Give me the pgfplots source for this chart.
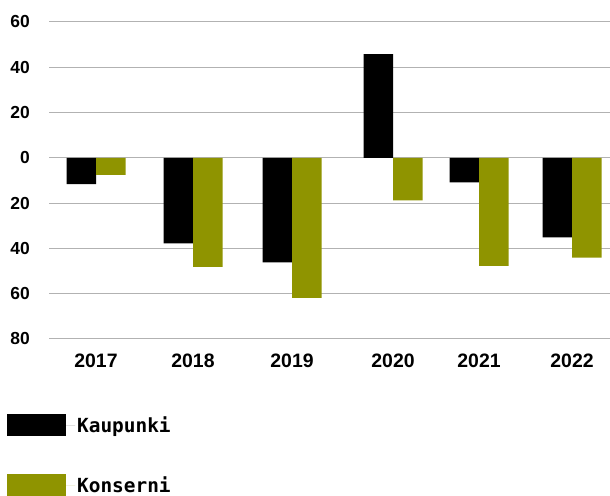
\documentclass[border=0pt]{standalone}
\usepackage{pgfplots}
\pgfplotsset{compat=1.18}
\usepackage{fontspec}
\setmainfont{Liberation Sans}
\newfontfamily\legfont{DejaVu Sans Mono}
\definecolor{olive}{RGB}{143,148,0}
\definecolor{gridgray}{RGB}{178,178,178}
\begin{document}
\begin{tikzpicture}[x=1bp,y=1bp]
\useasboundingbox (0,0) rectangle (610,496);
\begin{axis}[
  at={(49bp,157bp)}, anchor=south west,
  scale only axis, width=561bp, height=317bp,
  xmin=49, xmax=610, ymin=-80, ymax=60,
  ytick={-80,-60,-40,-20,0,20,40,60},
  yticklabels={80,60,40,20,0,20,40,60},
  xtick={96,193,292,393,479,572},
  xticklabels={2017,2018,2019,2020,2021,2022},
  ymajorgrids, grid style={draw=gridgray, line width=1bp},
  axis line style={draw=none},
  major tick length=0pt,
  ybar=0pt, bar width=29.5bp,
  yticklabel style={font=\bfseries\fontsize{17.5}{17.5}\selectfont, anchor=east, inner sep=0pt, xshift=-19bp},
  xticklabel style={font=\bfseries\fontsize{19.5}{19.5}\selectfont, anchor=center, inner sep=0pt, yshift=-21.5bp},
  legend style={at={(-0.075,-0.237)}, anchor=north west, draw=none, fill=none,
    inner sep=0pt, row sep=38bp,
    font=\legfont\bfseries\fontsize{19.5}{19.5}\selectfont,
    legend cell align=left},
]
\addplot[fill=black, draw=none, legend image code/.code={\fill[black] (0bp,-11bp) rectangle (59bp,11bp); \path (0bp,0bp) -- (68bp,0bp);}]
  coordinates {(96,-11.6) (193,-37.8) (292,-46.2) (393,45.8) (479,-10.8) (572,-35.1)};
\addlegendentry{Kaupunki}
\addplot[fill=olive, draw=none, legend image code/.code={\fill[olive] (0bp,-11bp) rectangle (59bp,11bp); \path (0bp,0bp) -- (68bp,0bp);}]
  coordinates {(96,-7.5) (193,-48.1) (292,-61.8) (393,-18.8) (479,-47.7) (572,-44.1)};
\addlegendentry{Konserni}
\end{axis}
\end{tikzpicture}
\end{document}
